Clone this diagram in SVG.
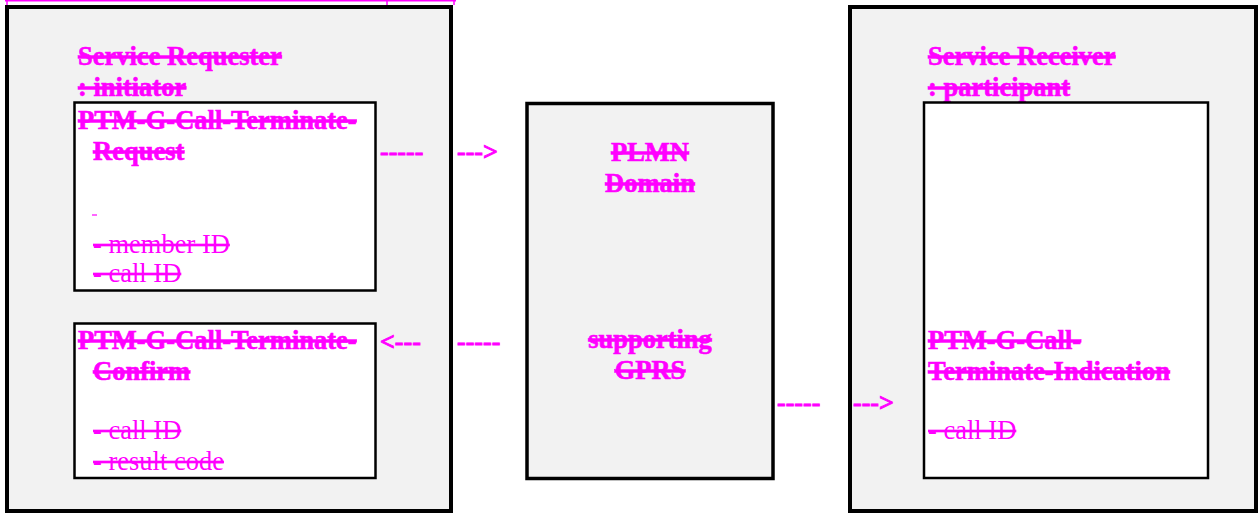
<svg xmlns="http://www.w3.org/2000/svg" width="1260" height="514" viewBox="0 0 1260 514">
<style>
.outer{fill:#f2f2f2;stroke:#000;stroke-width:4}
.inner{fill:#fff;stroke:#000;stroke-width:2.5}
.mid{fill:#f2f2f2;stroke:#000;stroke-width:3.5}
text{font-family:"Liberation Serif","Times New Roman",serif;font-size:26.5px;fill:#ff00ff;text-decoration:line-through}
.b{font-weight:bold;stroke:#ff00ff;stroke-width:0.6}
.c{text-anchor:middle}
.arr{font-family:"Liberation Serif","Times New Roman",serif;font-size:26px;font-weight:bold;fill:#ff00ff;stroke:#ff00ff;stroke-width:0.9;text-decoration:none}
</style>
<rect width="1260" height="514" fill="#fff"/>
<g id="topcut" stroke="#ff00ff" stroke-width="1.5">
<line x1="5" y1="0.8" x2="456" y2="0.8"/>
<line x1="7" y1="0" x2="7" y2="5"/>
<line x1="387" y1="0" x2="387" y2="5"/>
<line x1="454" y1="0" x2="454" y2="5"/>
</g>
<g id="requester">
<rect class="outer" x="7" y="7" width="444" height="504"/>
<text class="b" x="78" y="65">Service Requester</text>
<text class="b" x="78" y="96">: initiator</text>
</g>
<g id="request">
<rect class="inner" x="74.5" y="102.5" width="301" height="188"/>
<text class="b" x="78" y="129">PTM-G-Call-Terminate-</text>
<text class="b" x="93" y="160">Request</text>
<line x1="92" y1="215" x2="97" y2="215" stroke="#ff00ff" stroke-width="1.2"/>
<text x="93" y="253">- member ID</text>
<text x="93" y="282">- call ID</text>
</g>
<g id="confirm">
<rect class="inner" x="74.5" y="323.5" width="301" height="154.5"/>
<text class="b" x="78" y="349">PTM-G-Call-Terminate-</text>
<text class="b" x="93" y="380">Confirm</text>
<text x="93" y="439">- call ID</text>
<text x="93" y="470">- result code</text>
</g>
<g id="plmn">
<rect class="mid" x="527" y="103.5" width="246" height="375"/>
<text class="b c" x="650" y="161">PLMN</text>
<text class="b c" x="650" y="192">Domain</text>
<text class="b c" x="650" y="348">supporting</text>
<text class="b c" x="650" y="379">GPRS</text>
</g>
<g id="receiver">
<rect class="outer" x="850" y="7" width="406" height="504"/>
<text class="b" x="928" y="65">Service Receiver</text>
<text class="b" x="928" y="96">: participant</text>
</g>
<g id="indication">
<rect class="inner" x="924" y="102.5" width="284" height="375.5"/>
<text class="b" x="928" y="349">PTM-G-Call-</text>
<text class="b" x="928" y="380">Terminate-Indication</text>
<text x="928" y="439">- call ID</text>
</g>
<g id="connectors">
<text class="arr" x="380" y="160">-----</text>
<text class="arr" x="457" y="160">---&gt;</text>
<text class="arr" x="380" y="350">&lt;---</text>
<text class="arr" x="457" y="350">-----</text>
<text class="arr" x="777" y="411">-----</text>
<text class="arr" x="853" y="411">---&gt;</text>
</g>
</svg>
